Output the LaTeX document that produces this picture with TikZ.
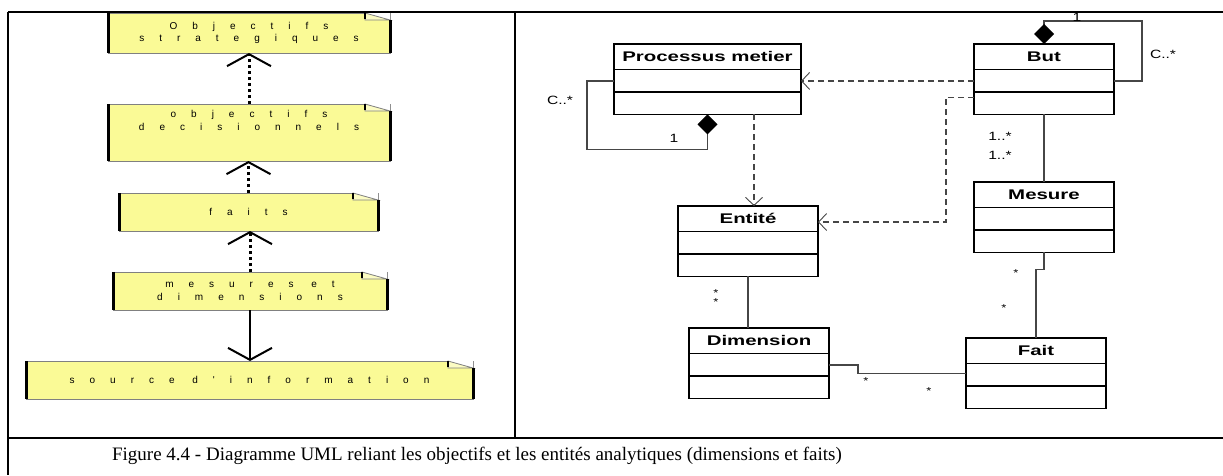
\documentclass[tikz,border=0pt]{standalone}
\usepackage{fontspec}
\usepackage{tikz}
\usetikzlibrary{arrows.meta,positioning,calc,shapes.multipart}
\setmainfont{Liberation Serif}
\newfontfamily\umlfont[FakeStretch=1.46]{Liberation Sans}
\newfontfamily\multfont[FakeStretch=1.3]{Liberation Sans}
\newfontfamily\notefont[LetterSpace=150]{Liberation Sans}
\definecolor{NoteYellow}{RGB}{250,250,150}
\definecolor{FoldYellow}{RGB}{252,252,195}
\definecolor{LinkGray}{RGB}{70,70,70}
\newcommand\umlparts[1]{\rule[-8pt]{0pt}{24.5pt}#1\nodepart{two}\rule{0pt}{21pt}\nodepart{three}\rule{0pt}{21pt}}

\begin{document}
\begin{tikzpicture}[x=1pt, y=-1pt,
    note/.style={fill=NoteYellow, draw=gray, line width=0.8pt, inner sep=0pt, outer sep=0pt, align=center, font=\notefont\fontsize{10}{12.5}\selectfont},
    umlclass/.style={draw, line width=1.3pt, rectangle split, rectangle split parts=3, inner sep=0pt, outer sep=0pt, minimum width=140pt, anchor=north west, font=\umlfont\bfseries\fontsize{14}{16}\selectfont},
    mult/.style={inner sep=0pt, font=\multfont\fontsize{12}{14}\selectfont},
    star/.style={inner sep=0pt, font=\multfont\fontsize{10}{12}\selectfont},
    dotarr/.style={line width=3pt, dash pattern=on 3pt off 3pt, -{Straight Barb[length=12pt,width=44pt,line width=2pt]}},
    solarr/.style={line width=2.5pt, -{Straight Barb[length=12pt,width=44pt,line width=2pt]}},
    dep/.style={draw=LinkGray, line width=1.1pt, dash pattern=on 6pt off 4pt, -{Straight Barb[length=8pt,width=17pt,line width=0.9pt]}},
    assoc/.style={draw=LinkGray, line width=1.1pt},
    comp/.style={assoc, -{Diamond[length=20pt,width=20pt,color=black]}}
  ]
  \useasboundingbox (0,0) rectangle (1223,475);

  % left panel: notes
  \node[note, minimum width=282pt, minimum height=40pt] (strat) at (249,33) {Objectifs\\strategiques};
  \node[note, minimum width=282pt, minimum height=57pt] (decis) at (249,132.5) {objectifs\\decisionnels\\[12pt]\mbox{}};
  \node[note, minimum width=259pt, minimum height=38pt] (faits) at (248.5,212) {faits};
  \node[note, minimum width=274pt, minimum height=38pt] (mesdim) at (250,291) {mesures et\\dimensions};
  \node[note, minimum width=447pt, minimum height=38pt] (source) at (249.5,380) {source d'information};
  \foreach \n in {strat,decis,faits,mesdim,source}{
    \fill[white] ($(\n.north east)+(-25,0)$) -- (\n.north east) -- ($(\n.north east)+(0,7)$) -- cycle;
    \filldraw[fill=FoldYellow, draw=gray, line width=0.8pt] ($(\n.north east)+(-25,0)$) -- ($(\n.north east)+(0,7)$) -- ($(\n.north east)+(-25,7)$) -- cycle;
    \draw[line width=2.5pt] ($(\n.north east)+(-25,0)$) -- ++(0,6);
    \draw[line width=3pt] (\n.north west) -- (\n.south west);
    \draw[line width=3pt] ($(\n.north east)+(0,7)$) -- (\n.south east);
  }
  \draw[dotarr] (decis.north) -- (decis.north |- strat.south);
  \draw[dotarr] (faits.north) -- (faits.north |- decis.south);
  \draw[dotarr] (mesdim.north) -- (mesdim.north |- faits.south);
  \draw[solarr] (mesdim.south) -- (mesdim.south |- source.north);

  % right panel: classes
  \node[umlclass, minimum width=187pt] (pm) at (614,44) {\umlparts{Processus metier}};
  \node[umlclass] (but) at (974,44) {\umlparts{But}};
  \node[umlclass] (ent) at (678,206) {\umlparts{Entité}};
  \node[umlclass] (mes) at (974,182) {\umlparts{Mesure}};
  \node[umlclass] (dim) at (689,328) {\umlparts{Dimension}};
  \node[umlclass] (fait) at (966,338) {\umlparts{Fait}};

  \draw[dep] ($(but.one split west)!0.5!(but.two split west)$) -- ($(pm.one split east)!0.5!(pm.two split east)$);
  \draw[dep] ($(pm.south)+(46.5,0)$) coordinate (pmdrop) -- (pmdrop |- ent.north);
  \draw[dep] ($(but.two split west)+(0,5)$) -- ++(-28,0) |- ($(ent.north east)+(0,16)$);

  \draw[comp] ($(pm.one split west)!0.5!(pm.two split west)$) -- ++(-27,0) |- ($(pm.south)+(0,35)$) -- (pm.south);
  \draw[comp] ($(but.one split east)!0.5!(but.two split east)$) -- ++(28,0) |- ($(but.north)+(0,-23)$) -- (but.north);

  \draw[assoc] (but.south) -- (mes.north);
  \draw[assoc] (mes.south) -- ++(0,17) -| (fait.north);
  \draw[assoc] (ent.south) -- (ent.south |- dim.north);
  \draw[assoc] ($(dim.one split east)!0.5!(dim.two split east)$) -- ++(29,0) |- ($(fait.one split west)!0.45!(fait.two split west)$);

  % multiplicities
  \node[mult] (pmc) at (560,100) {C..*};
  \node[mult] (pmone) at (674,138) {1};
  \node[mult] (butc) at (1163,54) {C..*};
  \node[mult] (butone) at (1077,17) {1};
  \node[mult] (butmesa) at (1000,136) {1..*};
  \node[mult] (butmesb) at (1000,155) {1..*};
  \node[star] (entdima) at (716,293) {*};
  \node[star] (entdimb) at (716,302) {*};
  \node[star] (mesfaita) at (1016,273) {*};
  \node[star] (mesfaitb) at (1004,308) {*};
  \node[star] (dimfaita) at (866,381) {*};
  \node[star] (dimfaitb) at (929,391) {*};

  % table frame and caption
  \draw[line width=1.5pt] (8,12) -- (1223,12);
  \draw[line width=2.5pt] (8,12) -- (8,475);
  \draw[line width=2.5pt] (515,12) -- (515,438);
  \draw[line width=2.5pt] (8,438) -- (1223,438);
  \node[font=\fontsize{19}{22}\selectfont] (caption) at (477,456) {Figure 4.4 - Diagramme UML reliant les objectifs et les entités analytiques (dimensions et faits)};
\end{tikzpicture}
\end{document}
